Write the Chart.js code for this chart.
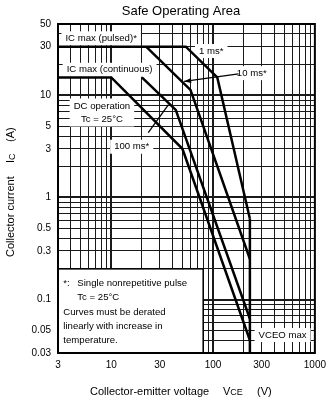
<!DOCTYPE html>
<html><head><meta charset="utf-8">
<script src="https://cdn.jsdelivr.net/npm/chart.js@4"></script>
<style>html,body{margin:0;padding:0;background:#fff}</style>
</head><body>
<canvas id="c" width="332" height="400"></canvas>
<script>
// ---- axis grid / tick data ----
const xGridValues = [3,4,5,6,7,8,9,10,20,30,40,50,60,70,80,90,100,200,300,400,500,600,700,800,900,1000];
const yGridValues = [0.03,0.04,0.05,0.06,0.07,0.08,0.09,0.1,0.2,0.3,0.4,0.5,0.6,0.7,0.8,0.9,1,2,3,4,5,6,7,8,9,10,20,30,40,50];
const xTickLabels = [3,10,30,100,300,1000];
const yTickLabels = [0.03,0.05,0.1,0.3,0.5,1,3,5,10,30,50];
const decadeLines = [0.1,1,10,100];

// ---- curves (VCE in V, IC in A) ----
const pulse1msV = [3,54,110,230];
const pulse1msI = [30,30,15,0.62];
const vceoV = [230,230];
const vceoI = [0.62,0.03];
const pulse10msV = [22,60,230];
const pulse10msI = [30,11.3,0.25];
const dcV = [3,10,50,230];
const dcI = [15,15,3,0.04];
const pulse100msV = [20,43,230];
const pulse100msI = [15,7.2,0.065];

const FONT = '"Liberation Sans", Arial, sans-serif';
const pts = (xs, ys) => xs.map((x, k) => ({x, y: ys[k]}));
const mk = (xs, ys) => ({data: pts(xs, ys), borderColor:'#000', borderWidth:2.5, pointRadius:0, fill:false, tension:0, borderJoinStyle:'miter'});

// labels anchored in data coordinates (text centre)
const labels = [
  {lines:['IC max (pulsed)*'], v:7.96, i:36.2},
  {lines:['IC max (continuous)'], v:9.63, i:17.8},
  {lines:['DC operation','Tc = 25°C'], v:8.1, i:6.8, lh:13},
  {lines:['100 ms*'], v:15.9, i:3.14},
  {lines:['1 ms*'], v:96, i:27.2},
  {lines:['10 ms*'], v:240, i:16.5},
  {lines:['VCEO max'], v:482, i:0.045}
];
const leaders = [
  {from:[178,16.2], to:[52,13.7], arrow:true},
  {from:[23.1,4.31], to:[36.5,8.1], arrow:false}
];
const noteBox = {v0:3, v1:80, i0:0.03, i1:0.2};
const noteLines = [
  {t:'*:', dx:5.3, dy:14}, {t:'Single nonrepetitive pulse', dx:19.3, dy:14},
  {t:'Tc = 25°C', dx:19.3, dy:28.4},
  {t:'Curves must be derated', dx:5.3, dy:43},
  {t:'linearly with increase in', dx:5.3, dy:57.4},
  {t:'temperature.', dx:5.3, dy:71.7}
];

const annot = {
  id:'annot',
  beforeDatasetsDraw(chart){
    const {ctx, scales:{x, y}} = chart;
    ctx.save();
    ctx.font = '9.6px ' + FONT;
    ctx.textBaseline = 'middle';
    ctx.textAlign = 'center';
    labels.forEach(l => {
      const cx = x.getPixelForValue(l.v), cy = y.getPixelForValue(l.i);
      const lh = l.lh || 12;
      const w = Math.max(...l.lines.map(s => ctx.measureText(s).width)) + 8;
      const h = l.lines.length * lh + 2;
      ctx.fillStyle = '#fff';
      ctx.fillRect(cx - w/2, cy - h/2, w, h);
      ctx.fillStyle = '#000';
      l.lines.forEach((s, k) => ctx.fillText(s, cx, cy - (l.lines.length-1)*lh/2 + k*lh));
    });
    // note box
    const bx0 = x.getPixelForValue(noteBox.v0), bx1 = x.getPixelForValue(noteBox.v1);
    const by0 = y.getPixelForValue(noteBox.i1), by1 = y.getPixelForValue(noteBox.i0);
    ctx.fillStyle = '#fff';
    ctx.fillRect(bx0, by0, bx1 - bx0, by1 - by0);
    ctx.strokeStyle = '#000'; ctx.lineWidth = 1.5;
    ctx.strokeRect(bx0, by0, bx1 - bx0, by1 - by0);
    ctx.fillStyle = '#000'; ctx.textAlign = 'left';
    noteLines.forEach(n => ctx.fillText(n.t, bx0 + n.dx, by0 + n.dy));
    ctx.restore();
  },
  afterDatasetsDraw(chart){
    const {ctx, chartArea:a, scales:{x, y}} = chart;
    ctx.save();
    ctx.strokeStyle = '#000'; ctx.fillStyle = '#000'; ctx.lineWidth = 1.3;
    leaders.forEach(L => {
      const x0 = x.getPixelForValue(L.from[0]), y0 = y.getPixelForValue(L.from[1]);
      const x1 = x.getPixelForValue(L.to[0]), y1 = y.getPixelForValue(L.to[1]);
      ctx.beginPath(); ctx.moveTo(x0, y0); ctx.lineTo(x1, y1); ctx.stroke();
      if (L.arrow) {
        const ang = Math.atan2(y1 - y0, x1 - x0), len = 7, wd = 2.6;
        ctx.beginPath();
        ctx.moveTo(x1, y1);
        ctx.lineTo(x1 - len*Math.cos(ang) + wd*Math.sin(ang), y1 - len*Math.sin(ang) - wd*Math.cos(ang));
        ctx.lineTo(x1 - len*Math.cos(ang) - wd*Math.sin(ang), y1 - len*Math.sin(ang) + wd*Math.cos(ang));
        ctx.closePath(); ctx.fill();
      }
    });
    ctx.lineWidth = 2;
    ctx.strokeRect(a.left, a.top, a.right - a.left, a.bottom - a.top);
    ctx.restore();
  },
  afterDraw(chart){
    const {ctx} = chart;
    ctx.save();
    ctx.fillStyle = '#000';
    ctx.textBaseline = 'middle';
    ctx.textAlign = 'center';
    ctx.font = '13px ' + FONT;
    ctx.fillText('Safe Operating Area', 181, 11);
    // x title
    ctx.textAlign = 'left';
    ctx.font = '11px ' + FONT;
    ctx.fillText('Collector-emitter voltage', 90, 391.5);
    ctx.fillText('V', 223, 391.5);
    const vw = ctx.measureText('V').width;
    ctx.font = '9px ' + FONT;
    ctx.fillText('CE', 223 + vw, 393);
    ctx.font = '11px ' + FONT;
    ctx.fillText('(V)', 257, 391.5);
    // y title
    ctx.translate(11, 257);
    ctx.rotate(-Math.PI/2);
    ctx.fillText('Collector current', 0, 0);
    ctx.fillText('I', 94, 0);
    const iw = ctx.measureText('I').width;
    ctx.font = '9px ' + FONT;
    ctx.fillText('C', 94 + iw, 1.5);
    ctx.font = '11px ' + FONT;
    ctx.fillText('(A)', 115, 0);
    ctx.restore();
  }
};

const gridColor = () => '#1a1a1a';
const gridWidth = c => (c.tick && decadeLines.includes(c.tick.value)) ? 2 : 1;

new Chart(document.getElementById('c'), {
  type:'line',
  data:{datasets:[
    mk(pulse1msV, pulse1msI),
    mk(vceoV, vceoI),
    mk(pulse10msV, pulse10msI),
    mk(dcV, dcI),
    mk(pulse100msV, pulse100msI)
  ]},
  options:{
    responsive:false, animation:false, devicePixelRatio:1,
    layout:{padding:{top:24, right:15, left:0, bottom:0}},
    plugins:{legend:{display:false}, tooltip:{enabled:false}, title:{display:false}},
    scales:{
      x:{type:'logarithmic', min:3, max:1000,
        afterBuildTicks:s => { s.ticks = xGridValues.map(v => ({value:v})); },
        afterFit:s => { s.height = 47; },
        ticks:{autoSkip:false, maxRotation:0, minRotation:0, padding:6, color:'#000',
          font:{family:FONT, size:10},
          callback:v => xTickLabels.includes(v) ? String(v) : ''},
        grid:{color:gridColor, lineWidth:gridWidth, drawTicks:false},
        border:{display:false}},
      y:{type:'logarithmic', min:0.03, max:50,
        afterBuildTicks:s => { s.ticks = yGridValues.map(v => ({value:v})); },
        afterFit:s => { s.width = 58; },
        ticks:{autoSkip:false, padding:7, color:'#000',
          font:{family:FONT, size:10},
          callback:v => yTickLabels.includes(v) ? String(v) : ''},
        grid:{color:gridColor, lineWidth:gridWidth, drawTicks:false},
        border:{display:false}}
    }
  },
  plugins:[annot]
});
</script>
</body></html>
